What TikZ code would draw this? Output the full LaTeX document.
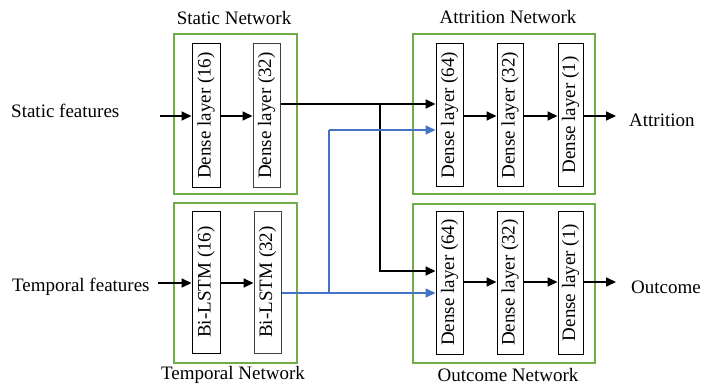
\documentclass[tikz,border=0pt]{standalone}
\usepackage{fontspec}
\setmainfont{Liberation Serif}
\usetikzlibrary{arrows.meta,calc}
\definecolor{netgreen}{HTML}{70AD47}
\definecolor{linkblue}{HTML}{4472C4}
\begin{document}
\begin{tikzpicture}[x=1pt,y=-1pt,
  font=\fontsize{19}{22}\selectfont,
  gbox/.style={draw=netgreen,line width=2pt,minimum width=#1,inner sep=0pt},
  layer/.style={draw=black,line width=1pt,minimum height=142pt,inner sep=0pt,fill=white},
  lbl/.style={inner sep=0pt},
  arr/.style={line width=1.7pt,-{Triangle[length=10pt,width=9pt]}},
  barr/.style={draw=linkblue,line width=1.6pt,-{Triangle[length=10pt,width=9pt]},color=linkblue},
  bline/.style={draw=linkblue,line width=1.2pt}]
\useasboundingbox (0,0) rectangle (701,385);
% network boxes
\node[gbox=123pt,minimum height=160pt] (sn) at (235.5,114) {};
\node[gbox=123pt,minimum height=160pt] (tn) at (235.5,283) {};
\node[gbox=182pt,minimum height=160pt] (an) at (504,114) {};
\node[gbox=182pt,minimum height=159pt] (on) at (504,283.5) {};
% titles
\node[lbl] (snt) at (234,18) {Static Network};
\node[lbl] (ant) at (508,17) {Attrition Network};
\node[lbl] (tnt) at (233,375) {Temporal Network};
\node[lbl] (ont) at (508,375) {Outcome Network};
% layers
\node[layer,minimum width=28pt,minimum height=143pt] (sd16) at (206,115.5) {\rotatebox{90}{Dense layer (16)}};
\node[layer,minimum width=27pt,minimum height=143pt,draw=black!75] (sd32) at (266.5,115.5) {\rotatebox{90}{Dense layer (32)}};
\node[layer,minimum width=28pt] (tl16) at (206,282) {\rotatebox{90}{Bi-LSTM (16)}};
\node[layer,minimum width=27pt,draw=black!75] (tl32) at (267.5,282) {\rotatebox{90}{Bi-LSTM (32)}};
\node[layer,minimum width=27pt] (ad64) at (449.5,115) {\rotatebox{90}{Dense layer (64)}};
\node[layer,minimum width=26pt] (ad32) at (510,115) {\rotatebox{90}{Dense layer (32)}};
\node[layer,minimum width=25pt] (ad1) at (570.5,115) {\rotatebox{90}{Dense layer (1)}};
\node[layer,minimum width=27pt,minimum height=143pt] (od64) at (449.5,282.5) {\rotatebox{90}{Dense layer (64)}};
\node[layer,minimum width=26pt,minimum height=143pt] (od32) at (510,282.5) {\rotatebox{90}{Dense layer (32)}};
\node[layer,minimum width=25pt,minimum height=143pt] (od1) at (570.5,282.5) {\rotatebox{90}{Dense layer (1)}};
% inputs / outputs
\node[lbl,anchor=west] (sf) at (11,111) {Static features};
\node[lbl,anchor=west] (tf) at (12,287) {Temporal features};
\node[lbl,anchor=west] (att) at (629,120) {Attrition};
\node[lbl,anchor=west] (out) at (631,287) {Outcome};
\coordinate (sfin) at (160,116);
\coordinate (tfin) at (158,283);
\coordinate (aout) at (616,116);
\coordinate (oout) at (616,282);
\coordinate (j1) at (380,104);
\coordinate (jb) at (380,271);
\coordinate (b1) at (329,130);
\coordinate (b2) at (329,293);
% static / temporal chains
\draw[arr] (sfin) -- (sfin -| sd16.west);
\draw[arr] (sd16.east |- sfin) -- (sd32.west |- sfin);
\draw[arr] (tfin) -- (tfin -| tl16.west);
\draw[arr] (tl16.east |- tfin) -- (tl32.west |- tfin);
% attrition / outcome chains
\draw[arr] (ad64.east |- aout) -- (ad32.west |- aout);
\draw[arr] (ad32.east |- aout) -- (ad1.west |- aout);
\draw[arr] (ad1.east |- aout) -- (aout);
\draw[arr] (od64.east |- oout) -- (od32.west |- oout);
\draw[arr] (od32.east |- oout) -- (od1.west |- oout);
\draw[arr] (od1.east |- oout) -- (oout);
% static features to heads
\draw[arr] (sd32.east |- j1) -- (ad64.west |- j1);
\draw[arr] (j1) -- (jb) -- (od64.west |- jb);
% temporal features to heads
\draw[bline] (tl32.east |- b2) -- (b2) -- (b1);
\draw[barr] (b1) -- (ad64.west |- b1);
\draw[barr] (b2) -- (od64.west |- b2);
\end{tikzpicture}
\end{document}
